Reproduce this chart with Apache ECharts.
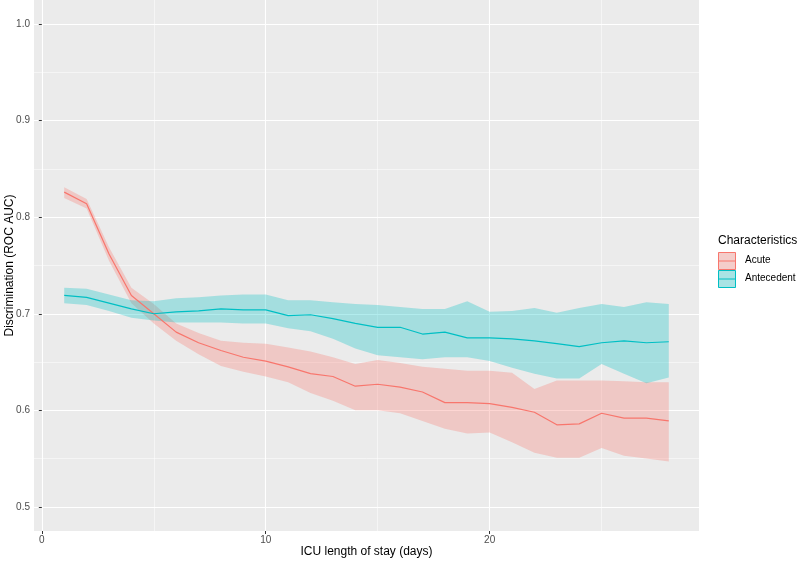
<!DOCTYPE html>
<html>
<head>
<meta charset="utf-8">
<script src="https://cdn.jsdelivr.net/npm/echarts@6/dist/echarts.min.js"></script>
<style>html,body{margin:0;padding:0;background:#fff;}#c{width:800px;height:561px;}</style>
</head>
<body>
<div id="c"></div>
<script>
const days = [1,2,3,4,5,6,7,8,9,10,11,12,13,14,15,16,17,18,19,20,21,22,23,24,25,26,27,28];
const acute   = [0.826,0.814,0.762,0.719,0.700,0.681,0.670,0.662,0.655,0.651,0.645,0.638,0.635,0.625,0.627,0.624,0.619,0.608,0.608,0.607,0.603,0.598,0.585,0.586,0.597,0.592,0.592,0.589];
const acuteLo = [0.820,0.809,0.755,0.711,0.690,0.672,0.658,0.646,0.640,0.635,0.629,0.618,0.610,0.600,0.600,0.597,0.589,0.581,0.576,0.577,0.567,0.556,0.551,0.551,0.561,0.553,0.550,0.547];
const acuteHi = [0.831,0.819,0.769,0.727,0.710,0.690,0.680,0.672,0.670,0.669,0.665,0.661,0.655,0.648,0.652,0.649,0.645,0.643,0.641,0.641,0.639,0.622,0.631,0.631,0.631,0.630,0.629,0.629];
const antecedent = [0.719,0.717,0.711,0.705,0.700,0.702,0.703,0.705,0.704,0.704,0.698,0.699,0.695,0.690,0.686,0.686,0.679,0.681,0.675,0.675,0.674,0.672,0.669,0.666,0.670,0.672,0.670,0.671];
const antLo = [0.711,0.709,0.703,0.696,0.693,0.691,0.691,0.691,0.690,0.690,0.685,0.682,0.674,0.664,0.657,0.655,0.653,0.655,0.655,0.651,0.644,0.638,0.633,0.633,0.648,0.638,0.628,0.634];
const antHi = [0.727,0.726,0.720,0.714,0.713,0.716,0.717,0.719,0.720,0.720,0.714,0.714,0.712,0.710,0.709,0.707,0.705,0.705,0.713,0.702,0.703,0.706,0.701,0.706,0.710,0.707,0.712,0.710];
const xTicks = [0,10,20];
const xMinor = [5,15,25];
const yTicks = [0.5,0.6,0.7,0.8,0.9,1.0];
const yMinor = [0.55,0.65,0.75,0.85,0.95];
const groups = ['Acute','Antecedent'];
const colors = ['#F8766D','#00BFC4'];

const FONT = 'Liberation Sans, Arial, sans-serif';

function ribbon(lo, hi, color) {
  return {
    type: 'custom',
    silent: true,
    data: days.map((d, i) => [d, lo[i], hi[i]]),
    encode: { x: 0, y: [1, 2] },
    renderItem: function (params, api) {
      if (params.dataIndex !== 0) return null;
      const pts = [];
      for (let i = 0; i < days.length; i++) pts.push(api.coord([days[i], hi[i]]));
      for (let i = days.length - 1; i >= 0; i--) pts.push(api.coord([days[i], lo[i]]));
      return { type: 'polygon', shape: { points: pts }, style: { fill: color, opacity: 0.3 } };
    }
  };
}
function line(vals, color, name) {
  return {
    type: 'line', name: name, silent: true, showSymbol: false, symbol: 'none',
    data: days.map((d, i) => [d, vals[i]]),
    lineStyle: { color: color, width: 1.2 }, itemStyle: { color: color }, z: 3
  };
}

const chart = echarts.init(document.getElementById('c'), null, { renderer: 'canvas' });
const lx = 718, ly = 252, ks = 18;
chart.setOption({
  animation: false,
  backgroundColor: '#ffffff',
  grid: { left: 34, right: 101, top: 0, bottom: 30, show: true, backgroundColor: '#EBEBEB', borderWidth: 0,
          containLabel: false, outerBoundsMode: 'none' },
  xAxis: [{
    type: 'value', min: -0.35, max: 29.35,
    name: 'ICU length of stay (days)', nameLocation: 'middle', nameGap: 15, nameMoveOverlap: false,
    nameTextStyle: { color: '#000', fontSize: 12, fontFamily: FONT },
    axisLine: { show: false },
    axisTick: { show: true, customValues: xTicks, length: 3, lineStyle: { color: '#333', width: 1 } },
    axisLabel: { customValues: xTicks, color: '#4D4D4D', fontSize: 10, margin: 4, fontFamily: FONT },
    splitLine: { show: true, lineStyle: { color: '#fff', width: 1.1 } }
  }, {
    type: 'value', min: -0.35, max: 29.35, position: 'bottom',
    axisLine: { show: false },
    axisTick: { show: false, customValues: xMinor },
    axisLabel: { show: false, customValues: xMinor },
    splitLine: { show: true, lineStyle: { color: '#fff', width: 0.5 } }
  }],
  yAxis: [{
    type: 'value', min: 0.475, max: 1.025,
    name: 'Discrimination (ROC AUC)', nameLocation: 'middle', nameGap: 18, nameMoveOverlap: false,
    nameTextStyle: { color: '#000', fontSize: 12, fontFamily: FONT },
    axisLine: { show: false },
    axisTick: { show: true, customValues: yTicks, length: 3, lineStyle: { color: '#333', width: 1 } },
    axisLabel: { customValues: yTicks, color: '#4D4D4D', fontSize: 10, margin: 4, fontFamily: FONT,
      formatter: v => Number(v).toFixed(1) },
    splitLine: { show: true, lineStyle: { color: '#fff', width: 1.1 } }
  }, {
    type: 'value', min: 0.475, max: 1.025, position: 'left',
    axisLine: { show: false },
    axisTick: { show: false, customValues: yMinor },
    axisLabel: { show: false, customValues: yMinor },
    splitLine: { show: true, lineStyle: { color: '#fff', width: 0.5 } }
  }],
  series: [
    ribbon(acuteLo, acuteHi, colors[0]),
    line(acute, colors[0], groups[0]),
    ribbon(antLo, antHi, colors[1]),
    line(antecedent, colors[1], groups[1])
  ],
  graphic: [
    { type: 'text', left: lx, top: ly - 17, style: { text: 'Characteristics', fill: '#000', font: '12px ' + FONT } },
    { type: 'rect', shape: { x: lx, y: ly, width: ks, height: ks }, style: { fill: '#F2F2F2', stroke: null } },
    { type: 'rect', shape: { x: lx + 0.5, y: ly + 0.5, width: ks - 1, height: ks - 1 }, style: { fill: 'rgba(248,118,109,0.3)', stroke: colors[0], lineWidth: 1 } },
    { type: 'line', shape: { x1: lx, y1: ly + ks / 2, x2: lx + ks, y2: ly + ks / 2 }, style: { stroke: colors[0], lineWidth: 1 } },
    { type: 'text', left: lx + ks + 9, top: ly + ks / 2 - 6, style: { text: groups[0], fill: '#000', font: '10px ' + FONT } },
    { type: 'rect', shape: { x: lx, y: ly + ks, width: ks, height: ks }, style: { fill: '#F2F2F2', stroke: null } },
    { type: 'rect', shape: { x: lx + 0.5, y: ly + ks + 0.5, width: ks - 1, height: ks - 1 }, style: { fill: 'rgba(0,191,196,0.3)', stroke: colors[1], lineWidth: 1 } },
    { type: 'line', shape: { x1: lx, y1: ly + ks * 1.5, x2: lx + ks, y2: ly + ks * 1.5 }, style: { stroke: colors[1], lineWidth: 1 } },
    { type: 'text', left: lx + ks + 9, top: ly + ks * 1.5 - 6, style: { text: groups[1], fill: '#000', font: '10px ' + FONT } }
  ]
});
</script>
</body>
</html>
